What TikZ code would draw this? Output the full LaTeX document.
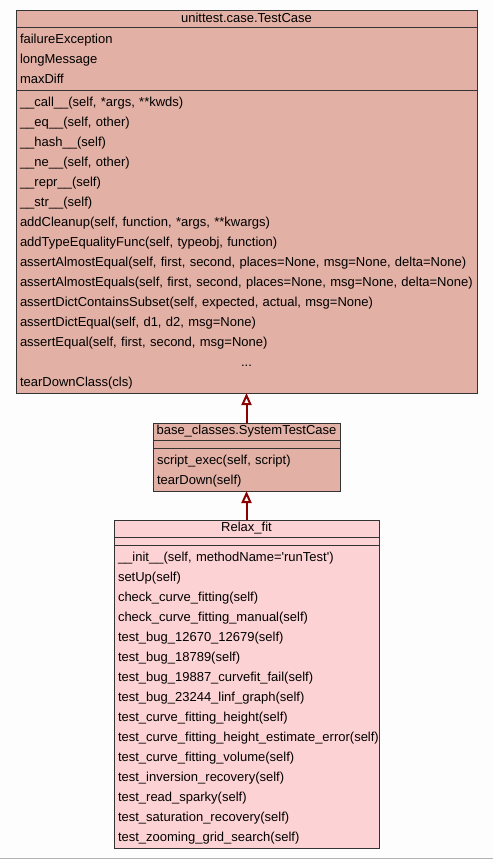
\documentclass[tikz,border=0pt]{standalone}
\usepackage{fontspec}
\setmainfont{Liberation Sans}
\usepackage{tikz}
\usetikzlibrary{arrows.meta, positioning}
\definecolor{basebg}{RGB}{226,176,164}
\definecolor{classbg}{RGB}{253,210,212}
\definecolor{edgered}{RGB}{139,0,0}
\definecolor{pagebg}{RGB}{252,253,252}

\begin{document}
\begin{tikzpicture}[x=1pt, y=-1pt, font=\fontsize{13pt}{20pt}\selectfont,
    clstitle/.style={rectangle, draw=black!80, line width=1pt, outer sep=0pt, inner sep=0pt, minimum height=17pt, text height=9.5pt, text depth=3pt, align=center},
    clsempty/.style={rectangle, draw=black!80, line width=1pt, outer sep=0pt, inner sep=0pt, minimum height=8pt},
    clsbody/.style={clsempty, inner xsep=4pt, align=left,
        execute at begin node=\rule{0pt}{12.5pt}, execute at end node=\rule[-3pt]{0pt}{3pt}},
    arrow/.style={-{Triangle[open, length=12pt, width=10pt]}, draw=edgered, line width=2pt}
]
\useasboundingbox[fill=pagebg] (0,0) rectangle (493,859);

% base class
\node[clstitle, fill=basebg, minimum width=461pt] (testcase) at (246.5,19.5) {unittest.case.TestCase};
\node[clsbody, fill=basebg, text width=453pt, minimum height=62pt, below=0pt of testcase] (testcaseattr) {failureException\\longMessage\\maxDiff};
\node[clsbody, fill=basebg, text width=453pt, minimum height=303pt, below=0pt of testcaseattr] (testcaseops) {\_\_call\_\_(self, *args, **kwds)\\
\_\_eq\_\_(self, other)\\
\_\_hash\_\_(self)\\
\_\_ne\_\_(self, other)\\
\_\_repr\_\_(self)\\
\_\_str\_\_(self)\\
addCleanup(self, function, *args, **kwargs)\\
addTypeEqualityFunc(self, typeobj, function)\\
assertAlmostEqual(self, first, second, places=None, msg=None, delta=None)\\
assertAlmostEquals(self, first, second, places=None, msg=None, delta=None)\\
assertDictContainsSubset(self, expected, actual, msg=None)\\
assertDictEqual(self, d1, d2, msg=None)\\
assertEqual(self, first, second, msg=None)\\
\noindent\hbox to\hsize{\hss...\hss}\\
tearDownClass(cls)};

% middle class
\node[clstitle, fill=basebg, minimum width=187pt] (systest) at (246.5,431.5) {base\_classes.SystemTestCase};
\node[clsempty, fill=basebg, minimum width=187pt, below=0pt of systest] (systestattr) {};
\node[clsbody, fill=basebg, text width=179pt, minimum height=43pt, below=0pt of systestattr] (systestops) {script\_exec(self, script)\\tearDown(self)};

% test class
\node[clstitle, fill=classbg, minimum width=265pt] (relax) at (246.5,528.5) {Relax\_fit};
\node[clsempty, fill=classbg, minimum width=265pt, below=0pt of relax] (relaxattr) {};
\node[clsbody, fill=classbg, text width=257pt, minimum height=303pt, below=0pt of relaxattr] (relaxops) {\_\_init\_\_(self, methodName=\textquotesingle runTest\textquotesingle)\\
setUp(self)\\
check\_curve\_fitting(self)\\
check\_curve\_fitting\_manual(self)\\
test\_bug\_12670\_12679(self)\\
test\_bug\_18789(self)\\
test\_bug\_19887\_curvefit\_fail(self)\\
test\_bug\_23244\_linf\_graph(self)\\
test\_curve\_fitting\_height(self)\\
test\_curve\_fitting\_height\_estimate\_error(self)\\
test\_curve\_fitting\_volume(self)\\
test\_inversion\_recovery(self)\\
test\_read\_sparky(self)\\
test\_saturation\_recovery(self)\\
test\_zooming\_grid\_search(self)};

\draw[arrow] (systest.north) -- (testcaseops.south);
\draw[arrow] (relax.north) -- (systestops.south);

\draw[gray!60, line width=1pt] (0,858.5) -- (493,858.5);

\end{tikzpicture}
\end{document}
